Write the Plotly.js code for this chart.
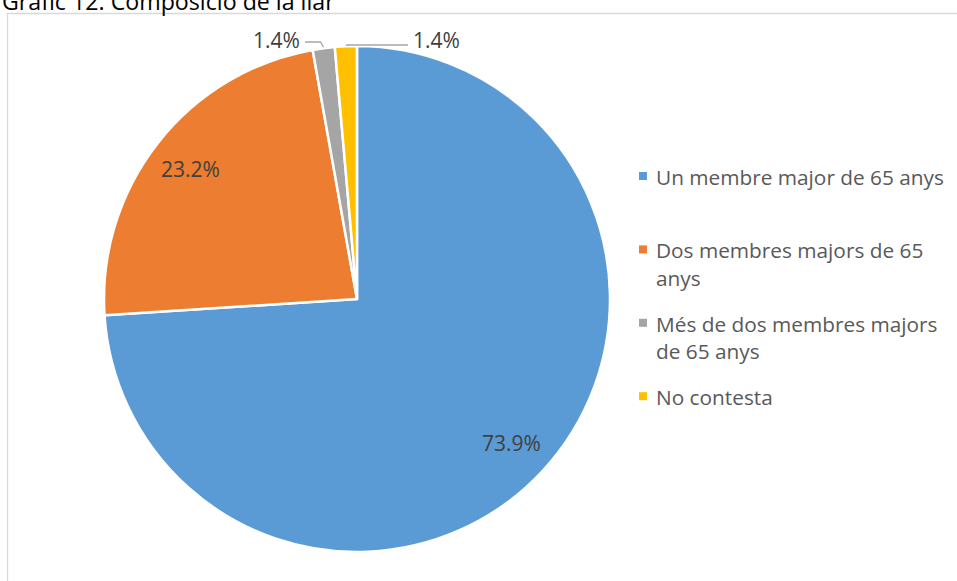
<!DOCTYPE html>
<html>
<head>
<meta charset="utf-8">
<script src="https://cdn.plot.ly/plotly-3.0.1.min.js"></script>
<style>html,body{margin:0;padding:0;background:#fff;}#chart{width:957px;height:581px;}</style>
</head>
<body>
<div id="chart"></div>
<script>
// ---- data ----
const titleText = "Gràfic 12. Composició de la llar";
const categories = ["Un membre major de 65 anys", "Dos membres majors de 65 anys", "Més de dos membres majors de 65 anys", "No contesta"];
const legendLines = [["Un membre major de 65 anys"], ["Dos membres majors de 65", "anys"], ["Més de dos membres majors", "de 65 anys"], ["No contesta"]];
const values = [73.9, 23.2, 1.4, 1.4];
const colors = ["#5B9BD5", "#ED7D31", "#A5A5A5", "#FFC000"];

// ---- layout geometry (pixels) ----
const W = 957, H = 581;
const cx = 357, cy = 299, R = 253;
const px = x => x / W;
const py = y => 1 - y / H;

const total = values.reduce((a, b) => a + b, 0);
// angles clockwise from 12 o'clock
let acc = 0;
const mids = values.map(v => { const a0 = acc; acc += v / total * 360; return (a0 + acc) / 2; });
const pt = (deg, r) => { const t = deg * Math.PI / 180; return [cx + r * Math.sin(t), cy - r * Math.cos(t)]; };

const FAM = "'Open Sans', Lato, sans-serif";
const labelFont = {family: FAM, size: 21, color: "#404040"};
const annotations = [];
const shapes = [];

// border frame
shapes.push({type: "rect", xref: "paper", yref: "paper", x0: px(7.5), x1: px(980), y0: py(13.5), y1: py(600),
  line: {color: "#D9D9D9", width: 1.3}, fillcolor: "rgba(0,0,0,0)", layer: "below"});

// data labels: big slices inside, small slices outside with leaders
values.forEach((v, i) => {
  const txt = v.toFixed(1) + "%";
  if (v > 5) {
    const [x, y] = pt(mids[i], 0.835 * R);
    annotations.push({xref: "paper", yref: "paper", x: px(x), y: py(y), text: txt, showarrow: false,
      xanchor: "center", yanchor: "middle", font: labelFont});
  } else {
    const [ex, ey] = pt(mids[i], R + 1);
    const side = i === 2 ? -1 : 1;
    const ly = i === 2 ? 42 : 45;
    const hx = i === 2 ? ex - 3 : ex + 2;
    const endx = i === 2 ? 305 : 408;
    shapes.push({type: "path", xref: "paper", yref: "paper",
      path: `M ${px(endx)} ${py(ly)} L ${px(hx)} ${py(ly)} L ${px(ex)} ${py(ey)}`,
      line: {color: "#A6A6A6", width: 1.3}});
    annotations.push({xref: "paper", yref: "paper", x: px(endx + side * 3), y: py(40), text: txt, showarrow: false,
      xanchor: side < 0 ? "right" : "left", yanchor: "middle", font: labelFont});
  }
});

// legend
const legFont = {family: FAM, size: 20.8, color: "#595959"};
legendLines.forEach((lines, i) => {
  const y0 = 177 + i * 73.4;
  shapes.push({type: "rect", xref: "paper", yref: "paper", x0: px(639), x1: px(647), y0: py(y0 - 5), y1: py(y0 + 3),
    fillcolor: colors[i], line: {width: 0}});
  lines.forEach((ln, j) => {
    annotations.push({xref: "paper", yref: "paper", x: px(654), y: py(y0 + j * 27.5), text: ln, showarrow: false,
      xanchor: "left", yanchor: "middle", font: legFont});
  });
});

// title (cut off at top as in reference)
annotations.push({xref: "paper", yref: "paper", x: px(0), y: py(1), text: titleText, showarrow: false,
  xanchor: "left", yanchor: "middle", font: {family: FAM, size: 23.2, color: "#000000"}});

const trace = {
  type: "pie",
  labels: categories,
  values: values,
  sort: false,
  direction: "clockwise",
  rotation: 0,
  marker: {colors: colors, line: {color: "#FFFFFF", width: 2.5}},
  textinfo: "none",
  hoverinfo: "label+value",
  showlegend: false,
  domain: {x: [px(cx - R), px(cx + R)], y: [py(cy + R), py(cy - R)]}
};

Plotly.newPlot("chart", [trace], {
  width: W, height: H,
  margin: {l: 0, r: 0, t: 0, b: 0},
  paper_bgcolor: "#FFFFFF",
  showlegend: false,
  annotations: annotations,
  shapes: shapes
}, {displayModeBar: false, staticPlot: true});
</script>
</body>
</html>
